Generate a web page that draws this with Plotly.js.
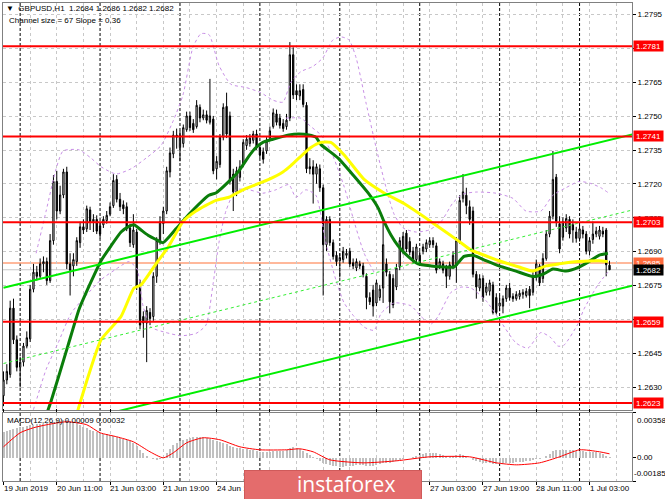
<!DOCTYPE html>
<html><head><meta charset="utf-8">
<script src="https://cdn.plot.ly/plotly-3.0.1.min.js"></script>
<style>html,body{margin:0;padding:0;background:#fff}#chart{width:665px;height:499px}</style>
</head><body><div id="chart"></div>
<script>
// ---- GBPUSD H1 candles (bar index 0 = 19 Jun 19:00) ----
const openP = [1.26262,1.26332,1.26356,1.26650,1.26510,1.26388,1.26411,1.26482,1.26514,1.26734,
1.26809,1.26791,1.26846,1.26856,1.26772,1.26949,1.27211,1.27080,1.27151,1.27253,
1.26846,1.26837,1.26856,1.26940,1.27010,1.27001,1.27085,1.27033,1.27043,1.27014,
1.27019,1.27038,1.27066,1.27104,1.27220,1.27132,1.27108,1.27099,1.27005,1.26931,
1.26987,1.26753,1.26613,1.26584,1.26631,1.26613,1.26791,1.26949,1.27024,1.27080,
1.27253,1.27333,1.27416,1.27361,1.27379,1.27440,1.27501,1.27468,1.27454,1.27539,
1.27492,1.27506,1.27473,1.27487,1.27267,1.27286,1.27407,1.27543,1.27501,1.27243,
1.27160,1.27229,1.27286,1.27370,1.27379,1.27393,1.27421,1.27361,1.27342,1.27346,
1.27403,1.27454,1.27510,1.27492,1.27468,1.27454,1.27492,1.27772,1.27613,1.27590,
1.27618,1.27548,1.27276,1.27276,1.27243,1.27267,1.27183,1.26931,1.27043,1.26940,
1.26884,1.26860,1.26865,1.26884,1.26902,1.26851,1.26828,1.26846,1.26837,1.26791,
1.26697,1.26730,1.26673,1.26697,1.26739,1.26846,1.26800,1.26781,1.26744,1.26832,
1.26902,1.26982,1.26945,1.26902,1.26865,1.26884,1.26902,1.26912,1.26931,1.26949,
1.26926,1.26837,1.26846,1.26828,1.26791,1.26837,1.26837,1.26949,1.27136,1.27150,
1.27099,1.27080,1.26800,1.26739,1.26781,1.26720,1.26725,1.26753,1.26697,1.26659,
1.26659,1.26692,1.26739,1.26702,1.26692,1.26702,1.26711,1.26706,1.26734,1.26720,
1.26786,1.26837,1.26781,1.26870,1.26978,1.27057,1.27230,1.27024,1.26964,1.27005,
1.27043,1.27019,1.26987,1.26959,1.26996,1.26978,1.26902,1.26954,1.26978,1.26968,
1.26991,1.26996,1.26840];
const highP = [1.26370,1.26402,1.26683,1.26692,1.26529,1.26435,1.26496,1.26547,1.26753,1.26846,
1.26837,1.26870,1.26879,1.26874,1.26978,1.27239,1.27258,1.27192,1.27267,1.27276,
1.26893,1.26893,1.26964,1.27033,1.27043,1.27104,1.27099,1.27066,1.27061,1.27033,
1.27057,1.27080,1.27118,1.27243,1.27239,1.27160,1.27127,1.27118,1.27024,1.27066,
1.27001,1.26776,1.26636,1.26659,1.26650,1.26809,1.26964,1.27057,1.27099,1.27276,
1.27361,1.27435,1.27445,1.27435,1.27463,1.27520,1.27520,1.27487,1.27571,1.27552,
1.27529,1.27525,1.27665,1.27501,1.27323,1.27421,1.27557,1.27604,1.27520,1.27267,
1.27276,1.27305,1.27398,1.27416,1.27421,1.27435,1.27440,1.27379,1.27361,1.27407,
1.27454,1.27534,1.27529,1.27510,1.27487,1.27510,1.27828,1.27805,1.27641,1.27641,
1.27641,1.27562,1.27314,1.27305,1.27290,1.27286,1.27197,1.27057,1.27057,1.26954,
1.26902,1.26893,1.26921,1.26912,1.26917,1.26870,1.26870,1.26860,1.26851,1.26804,
1.26720,1.26753,1.26776,1.26753,1.27047,1.26870,1.26814,1.26800,1.26846,1.26964,
1.26987,1.26996,1.26964,1.26921,1.26935,1.26902,1.26935,1.26954,1.26964,1.26964,
1.26940,1.26870,1.26860,1.26842,1.26856,1.26902,1.26964,1.27150,1.27244,1.27183,
1.27127,1.27099,1.26814,1.26800,1.26795,1.26762,1.26776,1.26767,1.26716,1.26706,
1.26706,1.26753,1.26762,1.26716,1.26725,1.26730,1.26734,1.26739,1.26748,1.26809,
1.26865,1.26846,1.26893,1.26996,1.27080,1.27346,1.27244,1.27057,1.27052,1.27066,
1.27057,1.27043,1.27010,1.27019,1.27014,1.26991,1.26964,1.27033,1.27010,1.27014,
1.27010,1.27005,1.26860];
const lowP = [1.26216,1.26313,1.26342,1.26491,1.26370,1.26299,1.26392,1.26472,1.26500,1.26720,
1.26772,1.26781,1.26809,1.26753,1.26762,1.26931,1.27043,1.27066,1.27137,1.26823,
1.26706,1.26791,1.26837,1.26917,1.26978,1.26987,1.26996,1.26987,1.26978,1.26959,
1.27005,1.27024,1.27057,1.27094,1.27118,1.27080,1.27066,1.26991,1.26921,1.26917,
1.26730,1.26557,1.26519,1.26411,1.26575,1.26594,1.26762,1.26931,1.26978,1.27066,
1.27229,1.27314,1.27356,1.27300,1.27361,1.27431,1.27435,1.27426,1.27445,1.27473,
1.27482,1.27468,1.27463,1.27243,1.27220,1.27272,1.27393,1.27403,1.27197,1.27080,
1.27146,1.27211,1.27276,1.27351,1.27365,1.27379,1.27351,1.27314,1.27290,1.27333,
1.27393,1.27445,1.27459,1.27445,1.27431,1.27440,1.27478,1.27576,1.27571,1.27571,
1.27539,1.27248,1.27243,1.27113,1.27201,1.27165,1.26706,1.26902,1.26926,1.26865,
1.26837,1.26786,1.26851,1.26870,1.26832,1.26823,1.26814,1.26823,1.26786,1.26645,
1.26664,1.26613,1.26659,1.26683,1.26673,1.26791,1.26627,1.26650,1.26730,1.26818,
1.26888,1.26898,1.26884,1.26851,1.26851,1.26837,1.26888,1.26898,1.26917,1.26917,
1.26804,1.26823,1.26804,1.26739,1.26776,1.26823,1.26762,1.26935,1.27118,1.27066,
1.27019,1.26786,1.26692,1.26725,1.26678,1.26706,1.26706,1.26622,1.26622,1.26636,
1.26627,1.26678,1.26683,1.26678,1.26683,1.26688,1.26692,1.26697,1.26650,1.26706,
1.26772,1.26748,1.26762,1.26860,1.26964,1.27043,1.27010,1.26893,1.26949,1.26987,
1.26959,1.26940,1.26940,1.26945,1.26959,1.26888,1.26884,1.26935,1.26964,1.26954,
1.26964,1.26791,1.26820];
const closeP = [1.26332,1.26370,1.26650,1.26510,1.26388,1.26411,1.26482,1.26519,1.26734,1.26809,
1.26791,1.26846,1.26856,1.26772,1.26949,1.27211,1.27080,1.27151,1.27253,1.26846,
1.26818,1.26865,1.26949,1.27010,1.26996,1.27090,1.27033,1.27043,1.26991,1.26978,
1.27043,1.27061,1.27099,1.27215,1.27132,1.27099,1.27090,1.27001,1.26940,1.26996,
1.26744,1.26575,1.26584,1.26640,1.26604,1.26791,1.26949,1.27033,1.27080,1.27258,
1.27337,1.27416,1.27407,1.27416,1.27449,1.27501,1.27449,1.27440,1.27548,1.27492,
1.27506,1.27482,1.27501,1.27258,1.27300,1.27407,1.27539,1.27421,1.27211,1.27165,
1.27258,1.27276,1.27384,1.27398,1.27403,1.27421,1.27365,1.27328,1.27309,1.27389,
1.27435,1.27515,1.27473,1.27459,1.27445,1.27482,1.27772,1.27594,1.27594,1.27613,
1.27552,1.27267,1.27267,1.27243,1.27276,1.27183,1.26931,1.27043,1.26940,1.26879,
1.26856,1.26874,1.26902,1.26893,1.26846,1.26837,1.26856,1.26837,1.26800,1.26697,
1.26678,1.26659,1.26762,1.26734,1.26931,1.26809,1.26678,1.26664,1.26828,1.26949,
1.26968,1.26912,1.26898,1.26865,1.26921,1.26851,1.26921,1.26940,1.26949,1.26931,
1.26818,1.26856,1.26818,1.26791,1.26842,1.26884,1.26949,1.27127,1.27165,1.27104,
1.27043,1.26800,1.26744,1.26781,1.26697,1.26744,1.26762,1.26631,1.26631,1.26673,
1.26692,1.26739,1.26697,1.26692,1.26711,1.26716,1.26720,1.26725,1.26706,1.26791,
1.26846,1.26762,1.26870,1.26978,1.27057,1.27220,1.27033,1.26912,1.27033,1.27047,
1.26978,1.26996,1.26959,1.27001,1.26978,1.26902,1.26949,1.26978,1.26991,1.26996,
1.26978,1.26842,1.26820];

// ---- Moving averages ----
const greenBar = [9.5,11.3,14.3,19.4,22.7,26.3,29.3,32.3,35.3,37.4,39.2,41.3,43.4,45.8,47.9,51.8,55.7,61.7,63.8,67.7,70.7,73.7,75.8,77.9,80.9,85.7,88.7,91.7,93.8,95.3,100.5,105.3,109.5,112.5,114.3,116.4,118.5,121.5,124.5,128.4,132.3,135.3,138.3,141.0,144.9,148.8,153.9,159.0,162.0,165.0,168.9,172.8,175.8,178.8,181.5];
const greenVal = [1.26035,1.26112,1.26239,1.26486,1.26645,1.26767,1.2686,1.26926,1.26987,1.2701,1.27019,1.26996,1.26973,1.26954,1.2694,1.27001,1.27066,1.2715,1.2716,1.27211,1.27258,1.27323,1.27361,1.27384,1.27398,1.27417,1.27421,1.27417,1.27407,1.27375,1.27314,1.27234,1.2716,1.27094,1.27033,1.26973,1.26926,1.26879,1.26846,1.26837,1.26832,1.26832,1.26879,1.26884,1.2686,1.26837,1.26814,1.2679,1.268,1.26823,1.26814,1.26832,1.26856,1.26884,1.26893];
const yellowBar = [18.5,20.3,25.4,29.3,35.3,39.2,41.3,45.8,49.7,53.9,57.8,63.8,67.7,71.9,75.8,79.7,83.9,86.3,88.7,92.3,95.3,98.3,102.3,108.3,114.3,120.3,128.4,136.5,140.4,142.8,148.8,154.8,159.0,162.9,166.8,172.8,178.8,181.5];
const yellowVal = [1.2601,1.26098,1.26346,1.2651,1.26613,1.26739,1.26753,1.26846,1.26926,1.27033,1.2708,1.27127,1.27141,1.27174,1.27197,1.2722,1.27253,1.27281,1.27314,1.27361,1.27384,1.27384,1.27328,1.2722,1.2716,1.27113,1.27033,1.26949,1.26907,1.26893,1.2686,1.26832,1.26814,1.26837,1.26846,1.26856,1.2686,1.26856];

// ---- Bollinger-style bands (violet dashed) ----
const bandUpBar = [9.8,12.8,15.8,17.9,22.7,26.3,29.3,33.8,38.3,42.8,47.3,50.9,53.9,56.9,59.3,61.7,64.7,68.3,72.8,77.3,80.9,83.9,86.3,89.3,92.9,95.9,98.9,101.4,103.8,105.9,108.9,111.9,114.9,117.3,120.0,123.9,127.8,131.4,135.0,138.0,141.9,147.9,153.0,156.9,161.4,165.0,168.9,172.8,176.4,179.4,181.8];
const bandUpVal = [1.26893,1.2708,1.27267,1.27346,1.27351,1.27314,1.27276,1.27244,1.27267,1.27314,1.2737,1.27477,1.27594,1.27805,1.27865,1.27861,1.27725,1.27641,1.27627,1.27604,1.27571,1.27562,1.2765,1.27697,1.2772,1.27758,1.27837,1.27851,1.27837,1.27758,1.27557,1.27361,1.27183,1.27066,1.27005,1.26987,1.26996,1.27033,1.27117,1.27155,1.27164,1.27159,1.27136,1.2708,1.2708,1.2715,1.27183,1.27211,1.27202,1.27183,1.27159];
const bandLoBar = [6.8,9.8,12.8,16.4,20.3,24.8,29.3,33.8,37.7,40.1,41.9,44.3,48.8,53.3,57.8,60.8,62.9,64.7,66.8,69.8,73.7,77.9,81.8,85.7,87.8,90.8,93.8,96.8,99.8,102.3,105.3,108.3,111.3,113.4,117.3,122.4,125.4,128.4,130.5,134.4,137.4,140.4,144.9,149.4,153.9,157.5,161.4,164.4,166.5,168.3,172.5,174.3,178.5,181.5];
const bandLoVal = [1.26098,1.26239,1.26379,1.26496,1.26627,1.26706,1.26776,1.26823,1.26856,1.26823,1.2666,1.26566,1.26542,1.26528,1.26538,1.26575,1.26753,1.2694,1.2708,1.27174,1.27174,1.27159,1.27174,1.27197,1.27141,1.27174,1.2715,1.2694,1.26776,1.26673,1.26613,1.26566,1.26552,1.26627,1.26673,1.2666,1.26613,1.2658,1.26613,1.2672,1.26743,1.26739,1.26683,1.26589,1.26496,1.26473,1.26542,1.26519,1.26482,1.26486,1.2658,1.26645,1.26753,1.26809];
const bandMidBar = [84.8,89.3,92.3,95.3,98.3,102.3,105.3,108.3,111.3];
const bandMidVal = [1.27491,1.27491,1.27454,1.27417,1.27346,1.27188,1.27033,1.26893,1.26809];

// ---- Channel (size 67, slope 0.36) ----
const channelBars = [0, 189];
const channelUpper = [1.2674, 1.2742];
const channelMiddle = [1.26405, 1.27085];
const channelLower = [1.2607, 1.2675];

// ---- Levels ----
const levels = [1.2781, 1.2741, 1.2703, 1.2659, 1.2623];
const askLevel = 1.2685;
const bidLevel = 1.2682;

// ---- MACD(12,26,9) ----
const macdMain = [0.00208,0.00216,0.00224,0.00232,0.0024,0.00248,0.00248,0.00256,0.00264,0.00264,
0.00272,0.00272,0.00272,0.0028,0.0028,0.00288,0.00296,0.00296,0.00304,0.00304,
0.00296,0.00288,0.0028,0.00264,0.00248,0.0024,0.00224,0.00216,0.00208,0.002,
0.00192,0.00192,0.00184,0.00176,0.00168,0.0016,0.00152,0.00144,0.00136,0.0012,
0.00096,0.00064,0.0004,0.00016,0.0,-0.00008,-0.00016,-0.00008,0.00008,0.0004,
0.00072,0.00104,0.0012,0.00136,0.00144,0.00152,0.0016,0.00168,0.00168,0.00168,
0.00168,0.0016,0.00152,0.00144,0.00136,0.00128,0.0012,0.00112,0.00096,0.00088,
0.0008,0.0008,0.00072,0.00072,0.00064,0.00064,0.00056,0.00048,0.00048,0.00048,
0.00048,0.00056,0.00056,0.00056,0.00056,0.00064,0.0008,0.00088,0.0008,0.00072,
0.00056,0.0004,0.00024,0.00008,-0.00008,-0.00024,-0.0004,-0.00048,-0.00056,-0.00064,
-0.00064,-0.00072,-0.00072,-0.00064,-0.00064,-0.00064,-0.00056,-0.00056,-0.00056,-0.00064,
-0.00064,-0.00064,-0.00056,-0.00048,-0.0004,-0.0004,-0.0004,-0.00032,-0.00024,-0.00016,
-0.00008,0.0,0.0,0.00008,0.00016,0.00024,0.00032,0.0004,0.0004,0.0004,
0.0004,0.00032,0.00024,0.00016,0.00016,0.00016,0.00024,0.00032,0.00024,0.00016,
0.0,-0.00016,-0.00024,-0.00032,-0.0004,-0.0004,-0.0004,-0.00048,-0.00048,-0.00048,
-0.00048,-0.0004,-0.0004,-0.0004,-0.00032,-0.00032,-0.00032,-0.00024,-0.00024,-0.00016,
-0.00008,-0.00008,0.0,0.00016,0.00032,0.00056,0.00064,0.00064,0.00064,0.00064,
0.00064,0.00064,0.00056,0.00056,0.00056,0.00048,0.00048,0.00048,0.00048,0.0004,
0.00032,0.00016,0.00009];
const signalBar = [0,5,9,13,19,25,29,34,39,44,48,51,55,60,65,71,77,85,89,93,98,108,118,128,140,148,154,161,167,173,179,182];
const signalVal = [0.00088,0.002,0.0024,0.00264,0.00288,0.00264,0.002,0.00168,0.00128,0.00048,0.0,0.0004,0.0012,0.0016,0.00144,0.00088,0.00064,0.00064,0.00072,0.00048,-0.00016,-0.0004,-0.00024,0.00008,0.00008,-0.0004,-0.00056,-0.0004,0.00008,0.00064,0.00048,0.00032];

// ---- Axes ----
const daySeparators = [5, 29, 53, 77, 101, 125, 149, 173];
const xTickBars = [0, 16, 32, 48, 64, 80, 96, 112, 128, 144, 160, 176];
const xTickLabels = ["19 Jun 2019","20 Jun 11:00","21 Jun 03:00","21 Jun 19:00","24 Jun 11:00","25 Jun 03:00","25 Jun 19:00","26 Jun 11:00","27 Jun 03:00","27 Jun 19:00","28 Jun 11:00","1 Jul 03:00"];
const xGridBars = [0,8,16,24,32,40,48,56,64,72,80,88,96,104,112,120,128,136,144,152,160,168,176,184];
const priceTicks = [1.2615,1.2630,1.2645,1.2660,1.2675,1.2690,1.2705,1.2720,1.2735,1.2750,1.2765,1.2780,1.2795];
const macdTicks = [0.00358, 0, -0.00185];
const macdTickText = ["0.00358", "0.00", "-0.00185"];
const headerText = "\u25BC  GBPUSD,H1  1.2684 1.2686 1.2682 1.2682";
const channelText = "Channel size = 67 Slope = 0.36";
const macdText = "MACD(12,26,9) 0.00009 0.00032";
const watermarkText = "instaforex";

const barIdx = closeP.map((_, i) => i);
const FONT = 'Liberation Sans, Arial, sans-serif';
const VIOLET = '#c88fe6';

const traces = [
  {type:'scatter', mode:'lines', x:bandUpBar, y:bandUpVal, line:{color:VIOLET, width:1, dash:'3px,3px', shape:'spline', smoothing:0.6}, xaxis:'x', yaxis:'y', hoverinfo:'skip'},
  {type:'scatter', mode:'lines', x:bandLoBar, y:bandLoVal, line:{color:VIOLET, width:1, dash:'3px,3px', shape:'spline', smoothing:0.6}, xaxis:'x', yaxis:'y', hoverinfo:'skip'},
  {type:'scatter', mode:'lines', x:bandMidBar, y:bandMidVal, line:{color:VIOLET, width:1, dash:'3px,3px', shape:'spline', smoothing:0.6}, xaxis:'x', yaxis:'y', hoverinfo:'skip'},
  {type:'candlestick', x:barIdx, open:openP, high:highP, low:lowP, close:closeP, xaxis:'x', yaxis:'y',
    increasing:{line:{color:'#000', width:1}, fillcolor:'#ffffff'},
    decreasing:{line:{color:'#000', width:1}, fillcolor:'#000000'}, whiskerwidth:0},
  {type:'scatter', mode:'lines', x:greenBar, y:greenVal, line:{color:'#0a7d0a', width:3, shape:'spline', smoothing:0.5}, xaxis:'x', yaxis:'y'},
  {type:'scatter', mode:'lines', x:yellowBar, y:yellowVal, line:{color:'#ffff00', width:3, shape:'spline', smoothing:0.5}, xaxis:'x', yaxis:'y'},
  {type:'scatter', mode:'lines', x:channelBars, y:channelUpper, line:{color:'#00ee00', width:2}, xaxis:'x', yaxis:'y'},
  {type:'scatter', mode:'lines', x:channelBars, y:channelLower, line:{color:'#00ee00', width:2}, xaxis:'x', yaxis:'y'},
  {type:'scatter', mode:'lines', x:channelBars, y:channelMiddle, line:{color:'#33ee33', width:1, dash:'3px,3px'}, xaxis:'x', yaxis:'y'},
  {type:'bar', x:barIdx, y:macdMain, marker:{color:'#c0c0c0', line:{width:0}}, width:0.6, xaxis:'x', yaxis:'y2'},
  {type:'scatter', mode:'lines', x:signalBar, y:signalVal, line:{color:'#ff0000', width:1, shape:'spline', smoothing:0.6}, xaxis:'x', yaxis:'y2'}
];

const shapes = [];
daySeparators.forEach(b => shapes.push({type:'line', xref:'x', yref:'paper', x0:b, x1:b, y0:0, y1:1, line:{color:'#000', width:1, dash:'3px,2px'}, layer:'between'}));
shapes.push({type:'line', xref:'paper', yref:'y', x0:0, x1:1, y0:bidLevel, y1:bidLevel, line:{color:'#c8c8c8', width:1}, layer:'between'});
shapes.push({type:'line', xref:'paper', yref:'y', x0:0, x1:1, y0:askLevel, y1:askLevel, line:{color:'#ffa07a', width:1.5}, layer:'between'});
levels.forEach(l => shapes.push({type:'line', xref:'paper', yref:'y', x0:0, x1:1, y0:l, y1:l, line:{color:'#ff0000', width:2}, layer:'above'}));

const annotations = [];
annotations.push({xref:'paper', yref:'paper', x:0, y:1, xanchor:'left', yanchor:'top', xshift:1, yshift:1, text:headerText, showarrow:false, font:{family:FONT, size:8, color:'#000'}});
annotations.push({xref:'paper', yref:'paper', x:0, y:1, xanchor:'left', yanchor:'top', xshift:4, yshift:-11, text:channelText, showarrow:false, font:{family:FONT, size:8, color:'#000'}});
annotations.push({xref:'paper', yref:'y2 domain', x:0, y:1, xanchor:'left', yanchor:'top', xshift:2, yshift:-1, text:macdText, showarrow:false, font:{family:FONT, size:8, color:'#000'}});
levels.forEach(l => annotations.push({xref:'paper', yref:'y', x:1, y:l, xanchor:'left', yanchor:'middle', xshift:1, text:l.toFixed(4), showarrow:false, bgcolor:'#ff0000', borderpad:0, width:29, height:10, font:{family:FONT, size:8, color:'#fff'}}));
annotations.push({xref:'paper', yref:'y', x:1, y:askLevel, xanchor:'left', yanchor:'middle', xshift:1, text:askLevel.toFixed(4), showarrow:false, bgcolor:'#ff6a3d', borderpad:0, width:29, height:10, font:{family:FONT, size:8, color:'#fff'}});
annotations.push({xref:'paper', yref:'y', x:1, y:bidLevel, xanchor:'left', yanchor:'middle', xshift:1, text:bidLevel.toFixed(4), showarrow:false, bgcolor:'#000000', borderpad:0, width:29, height:10, font:{family:FONT, size:8, color:'#fff'}});
annotations.push({xref:'paper', yref:'y2 domain', x:1, y:1, xanchor:'left', yanchor:'top', xshift:3, yshift:-1, text:macdTickText[0], showarrow:false, font:{family:FONT, size:8, color:'#000'}});
annotations.push({xref:'paper', yref:'y2', x:1, y:macdTicks[1], xanchor:'left', yanchor:'middle', xshift:3, text:macdTickText[1], showarrow:false, font:{family:FONT, size:8, color:'#000'}});
annotations.push({xref:'paper', yref:'y2 domain', x:1, y:0, xanchor:'left', yanchor:'bottom', xshift:0, yshift:1, text:macdTickText[2], showarrow:false, font:{family:FONT, size:8, color:'#000'}});
// time axis labels, left-aligned at their bar
xTickBars.forEach((b, i) => annotations.push({xref:'x', yref:'paper', x:b, y:0, xanchor:'left', yanchor:'top', xshift:-2, yshift:-1, text:xTickLabels[i], showarrow:false, font:{family:FONT, size:8, color:'#000'}}));
// watermark (drawn last so it covers the labels below it)
annotations.push({xref:'paper', yref:'paper', x:0.3831, y:0.0230, xanchor:'left', yanchor:'top', text:' ', showarrow:false, bgcolor:'#e46c6c', bordercolor:'#cf5a5a', borderwidth:1, borderpad:0, width:176, height:28});
annotations.push({xref:'paper', yref:'paper', x:0.5453, y:-0.0060, xanchor:'center', yanchor:'middle', text:watermarkText, showarrow:false, borderpad:0, font:{family:'Open Sans, Liberation Sans, sans-serif', size:21, color:'#ffffff'}});

const layout = {
  width:665, height:499,
  margin:{l:3, r:33, t:3, b:18, pad:0},
  paper_bgcolor:'#ffffff', plot_bgcolor:'#ffffff',
  showlegend:false, hovermode:false, boxgap:0.45, bargap:0,
  font:{family:FONT, size:8, color:'#000'},
  xaxis:{anchor:'y2', range:[-0.15, 188.75], rangeslider:{visible:false},
    tickmode:'array', tickvals:xTickBars, showticklabels:false,
    ticks:'outside', ticklen:3, tickcolor:'#000',
    showgrid:true, gridcolor:'#c8c8c8', griddash:'3px,3px', gridwidth:1,
    minor:{tickvals:xGridBars, showgrid:true, gridcolor:'#c8c8c8', griddash:'3px,3px', ticks:''},
    showline:true, linecolor:'#808080', linewidth:1, mirror:'all', zeroline:false, fixedrange:true},
  yaxis:{domain:[0.1485, 1], range:[1.26199, 1.28001], side:'right', anchor:'x',
    tickmode:'array', tickvals:priceTicks, ticktext:priceTicks.map(v => v.toFixed(4)),
    ticks:'outside', ticklen:3, tickcolor:'#000', tickfont:{family:FONT, size:8, color:'#000'},
    showgrid:true, gridcolor:'#c8c8c8', griddash:'3px,3px', gridwidth:1,
    showline:true, linecolor:'#808080', linewidth:1, mirror:true, zeroline:false, fixedrange:true},
  yaxis2:{domain:[0, 0.1423], range:[-0.00185, 0.00358], side:'right', anchor:'x',
    tickmode:'array', tickvals:macdTicks, showticklabels:false, ticks:'outside', ticklen:3, tickcolor:'#000',
    showgrid:false, showline:true, linecolor:'#808080', linewidth:1, mirror:true, zeroline:false, fixedrange:true},
  shapes:shapes,
  annotations:annotations
};

Plotly.newPlot('chart', traces, layout, {staticPlot:true, displayModeBar:false});
</script>
</body></html>
